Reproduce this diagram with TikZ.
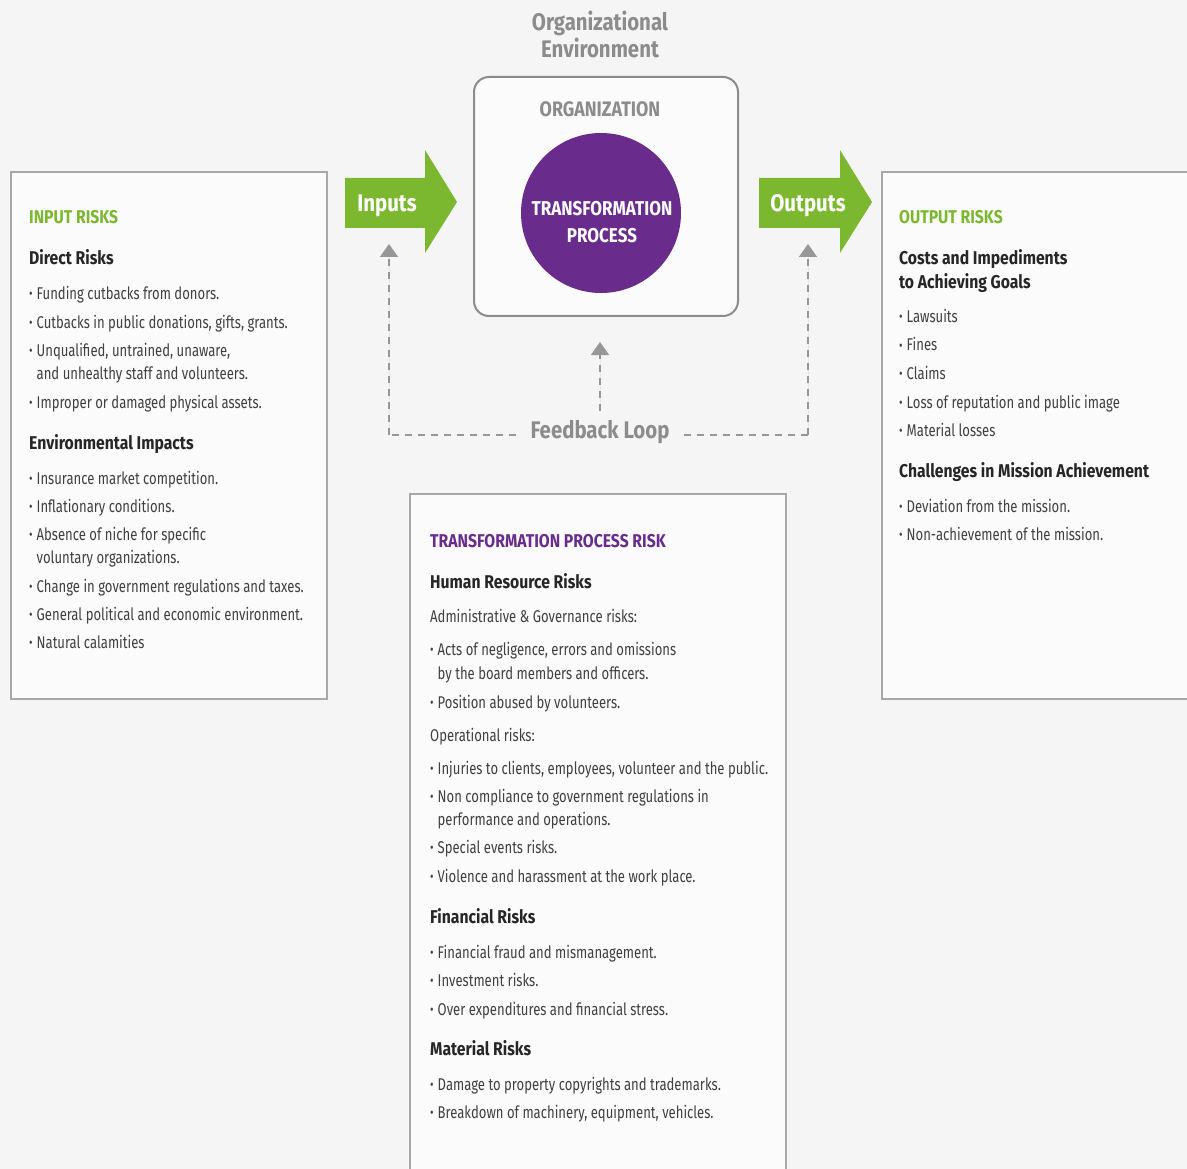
\documentclass[tikz,border=0pt]{standalone}
\usepackage{fontspec}
\setmainfont{Fira Sans}[FakeStretch=0.77, BoldFeatures={FakeStretch=0.85}]
\usetikzlibrary{arrows.meta}

\definecolor{riskgreen}{HTML}{7CB82F}
\definecolor{riskpurple}{HTML}{6A2C8C}
\definecolor{envgray}{HTML}{8C8C8C}
\definecolor{bodygray}{HTML}{404040}
\definecolor{boxline}{HTML}{A8A8A8}
\definecolor{bgcol}{HTML}{F5F5F5}
\definecolor{boxfill}{HTML}{FBFBFB}

\newcommand{\bul}{\makebox[7.5pt][l]{\raisebox{1pt}{\fontsize{14}{14}\selectfont\textbullet}}}
\newcommand{\ind}{\hspace*{7.5pt}}

\begin{document}
\begin{tikzpicture}[x=1pt, y=-1pt,
    riskbox/.style={draw=boxline, line width=1.5pt, fill=boxfill},
    title/.style={anchor=base west, inner sep=0pt, font=\fontsize{18.5}{18.5}\selectfont\bfseries},
    subhead/.style={anchor=base west, inner sep=0pt, text=black!85, font=\fontsize{18.5}{18.5}\selectfont\bfseries},
    item/.style={anchor=base west, inner sep=0pt, text=bodygray, font=\fontsize{17}{17}\selectfont},
    fbline/.style={draw=envgray!90, line width=1.5pt, dash pattern=on 7pt off 6pt},
    fbtip/.style={-{Triangle[length=13pt, width=18pt]}, fill=envgray}]

  \useasboundingbox (0,0) rectangle (1187,1169);
  \fill[bgcol] (0,0) rectangle (1187,1169);

  % environment and organization
  \node[text=envgray, align=center, font=\fontsize{24}{27}\selectfont\bfseries] (env) at (600,34) {Organizational\\Environment};
  \node[draw=envgray, line width=2pt, fill=boxfill, rounded corners=15pt,
        minimum width=264pt, minimum height=239pt] (org) at (606,196.5) {};
  \node[text=envgray, font=\fontsize{21}{21}\selectfont\bfseries] (orgname) at (600,109) {ORGANIZATION};
  \node[circle, fill=riskpurple, minimum size=160pt] (tp) at (601,213) {};
  \node[text=white, align=center, font=\fontsize{20}{27}\selectfont\bfseries] (tptext) at (602,222) {TRANSFORMATION\\PROCESS};

  % inputs / outputs arrows
  \fill[riskgreen] (345,178) -- (425,178) -- (425,150) -- (457,202) -- (425,253) -- (425,228) -- (345,228) -- cycle;
  \node[text=white, font=\fontsize{24}{24}\selectfont\bfseries] (inputs) at (387,206) {Inputs};
  \fill[riskgreen] (759,178) -- (840,178) -- (840,150) -- (872,202) -- (840,253) -- (840,228) -- (759,228) -- cycle;
  \node[text=white, font=\fontsize{24}{24}\selectfont\bfseries] (outputs) at (808,206) {Outputs};

  % feedback loop
  \node[text=envgray, inner xsep=14pt, inner ysep=4pt, font=\fontsize{24}{24}\selectfont\bfseries] (fb) at (600,432) {Feedback Loop};
  \coordinate (inCorner) at (389,435);
  \coordinate (inTip) at (389,244);
  \coordinate (outCorner) at (808,435);
  \coordinate (outTip) at (808,244);
  \draw[fbline] (fb.west |- inCorner) -- (inCorner);
  \draw[fbline, fbtip] (inCorner) -- (inTip);
  \draw[fbline] (fb.east |- outCorner) -- (outCorner);
  \draw[fbline, fbtip] (outCorner) -- (outTip);
  \draw[fbline, fbtip, shorten >=25pt] ([yshift=5pt]fb.north) -- (fb.north |- org.south);

  % input risks
  \node[riskbox, minimum width=316pt, minimum height=527pt] (inbox) at (169,435.5) {};
  \node[title, text=riskgreen] (intitle) at (29,224) {INPUT RISKS};
  \node[subhead] (indirect) at (29,265) {Direct Risks};
  \node[subhead] (inenv) at (29,449) {Environmental Impacts};
  \foreach \y/\t [count=\i] in {
      300/{\bul Funding cutbacks from donors.},
      328/{\bul Cutbacks in public donations, gifts, grants.},
      356/{\bul Unqualified, untrained, unaware,},
      379/{\ind and unhealthy staff and volunteers.},
      408/{\bul Improper or damaged physical assets.},
      484/{\bul Insurance market competition.},
      512/{\bul Inflationary conditions.},
      540/{\bul Absence of niche for specific},
      563/{\ind voluntary organizations.},
      592/{\bul Change in government regulations and taxes.},
      620/{\bul General political and economic environment.},
      648/{\bul Natural calamities}} {
    \node[item] (in\i) at (29,\y) {\t};
  }

  % output risks
  \node[riskbox, minimum width=313pt, minimum height=527pt] (outbox) at (1038.5,435.5) {};
  \node[title, text=riskgreen] (outtitle) at (899,224) {OUTPUT RISKS};
  \node[subhead] (outcost) at (899,265) {Costs and Impediments};
  \node[subhead] (outcost2) at (899,289) {to Achieving Goals};
  \node[subhead] (outmission) at (899,477) {Challenges in Mission Achievement};
  \foreach \y/\t [count=\i] in {
      323/{\bul Lawsuits},
      351/{\bul Fines},
      379/{\bul Claims},
      408/{\bul Loss of reputation and public image},
      436/{\bul Material losses},
      512/{\bul Deviation from the mission.},
      540/{\bul Non-achievement of the mission.}} {
    \node[item] (out\i) at (899,\y) {\t};
  }

  % transformation process risk
  \node[riskbox, minimum width=376pt, minimum height=690pt] (tpbox) at (598,839) {};
  \node[title, text=riskpurple] (tptitle) at (430,547) {TRANSFORMATION PROCESS RISK};
  \node[subhead] (tphuman) at (430,588) {Human Resource Risks};
  \node[subhead] (tpfin) at (430,923) {Financial Risks};
  \node[subhead] (tpmat) at (430,1055) {Material Risks};
  \foreach \y/\t [count=\i] in {
      622/{Administrative \& Governance risks:},
      655/{\bul Acts of negligence, errors and omissions},
      679/{\ind by the board members and officers.},
      708/{\bul Position abused by volunteers.},
      741/{Operational risks:},
      774/{\bul Injuries to clients, employees, volunteer and the public.},
      802/{\bul Non compliance to government regulations in},
      825/{\ind performance and operations.},
      853/{\bul Special events risks.},
      882/{\bul Violence and harassment at the work place.},
      958/{\bul Financial fraud and mismanagement.},
      986/{\bul Investment risks.},
      1015/{\bul Over expenditures and financial stress.},
      1090/{\bul Damage to property copyrights and trademarks.},
      1118/{\bul Breakdown of machinery, equipment, vehicles.}} {
    \node[item] (tp\i) at (430,\y) {\t};
  }
\end{tikzpicture}
\end{document}
